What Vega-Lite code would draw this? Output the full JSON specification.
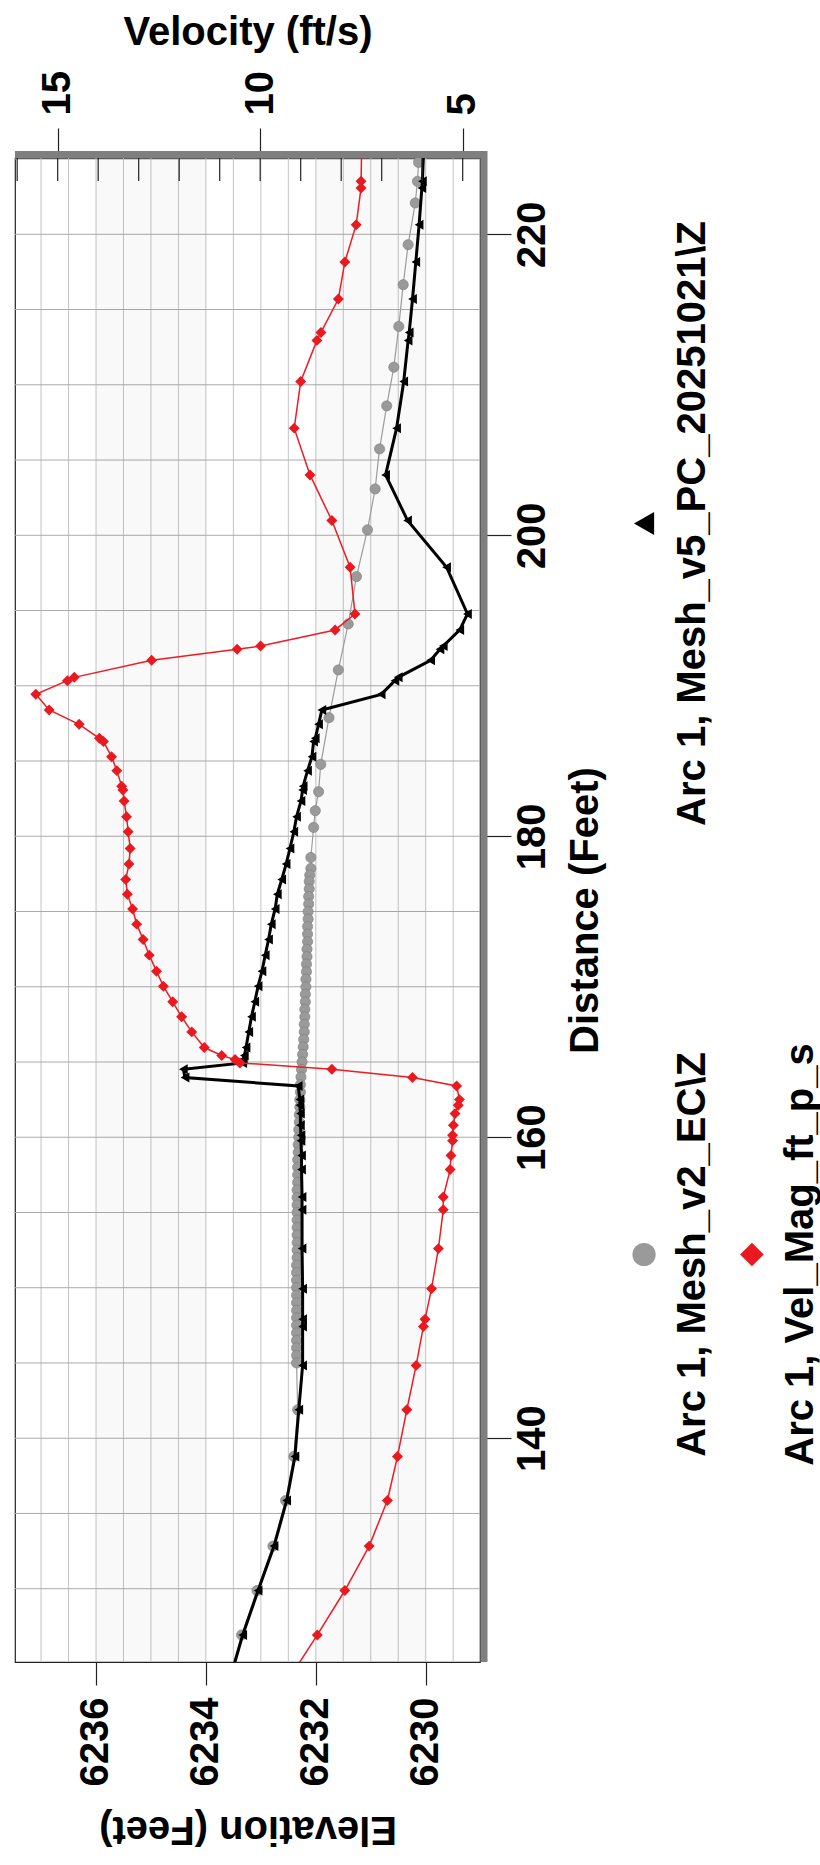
{
  "$schema": "https://vega.github.io/schema/vega-lite/v6.json",
  "padding": {"left": 10, "top": 11, "right": 0, "bottom": 12},
  "spacing": 10,
  "config": {
    "font": "Liberation Sans",
    "view": {"stroke": null},
    "axis": {
      "labelFont": "Liberation Sans", "titleFont": "Liberation Sans",
      "labelFontSize": 40, "titleFontSize": 40,
      "labelFontWeight": "bold", "titleFontWeight": "bold",
      "labelColor": "#000", "titleColor": "#000",
      "tickColor": "#222", "tickWidth": 1.2, "domain": false, "grid": false,
      "labelOverlap": false, "labelFlush": false, "labelBound": false, "zindex": 1
    }
  },
  "datasets": {
    "gray": [
      {"d":226.4,"e":6230.10},{"d":224.78,"e":6230.13},{"d":223.52,"e":6230.15},{"d":222.08,"e":6230.19},
      {"d":219.31,"e":6230.32},{"d":216.65,"e":6230.41},{"d":213.88,"e":6230.49},{"d":211.17,"e":6230.58},
      {"d":208.6,"e":6230.71},{"d":205.74,"e":6230.84},{"d":203.08,"e":6230.92},{"d":200.36,"e":6231.06},
      {"d":197.26,"e":6231.26},{"d":194.11,"e":6231.41},{"d":191.05,"e":6231.59},{"d":187.88,"e":6231.76},
      {"d":184.78,"e":6231.91},{"d":182.96,"e":6231.95},{"d":181.7,"e":6232.01},{"d":180.59,"e":6232.04},
      {"d":178.59,"e":6232.09},{"d":177.86,"e":6232.09},{"d":177.42,"e":6232.11},
      {"d":177.0,"e":6232.12},{"d":176.5,"e":6232.12},{"d":176.0,"e":6232.13},{"d":175.5,"e":6232.13},
      {"d":175.0,"e":6232.14},{"d":174.5,"e":6232.14},{"d":174.0,"e":6232.15},{"d":173.5,"e":6232.15},
      {"d":173.0,"e":6232.15},{"d":172.5,"e":6232.16},{"d":172.0,"e":6232.16},{"d":171.5,"e":6232.17},
      {"d":171.0,"e":6232.17},{"d":170.5,"e":6232.18},{"d":170.0,"e":6232.18},{"d":169.5,"e":6232.19},
      {"d":169.0,"e":6232.19},{"d":168.5,"e":6232.2},{"d":168.0,"e":6232.2},{"d":167.5,"e":6232.21},
      {"d":167.0,"e":6232.21},{"d":166.5,"e":6232.22},{"d":166.0,"e":6232.23},{"d":165.5,"e":6232.24},
      {"d":165.0,"e":6232.25},{"d":164.5,"e":6232.26},{"d":164.0,"e":6232.27},{"d":163.5,"e":6232.28},
      {"d":163.0,"e":6232.28},{"d":162.5,"e":6232.29},{"d":162.0,"e":6232.29},{"d":161.5,"e":6232.3},
      {"d":161.0,"e":6232.3},{"d":160.5,"e":6232.31},{"d":160.0,"e":6232.31},{"d":159.5,"e":6232.32},
      {"d":159.0,"e":6232.32},{"d":158.5,"e":6232.33},{"d":158.0,"e":6232.33},{"d":157.5,"e":6232.33},
      {"d":157.0,"e":6232.33},{"d":156.5,"e":6232.34},{"d":156.0,"e":6232.34},{"d":155.5,"e":6232.34},
      {"d":155.0,"e":6232.34},{"d":154.5,"e":6232.34},{"d":154.0,"e":6232.34},{"d":153.5,"e":6232.34},
      {"d":153.0,"e":6232.34},{"d":152.5,"e":6232.34},{"d":152.0,"e":6232.34},{"d":151.5,"e":6232.35},
      {"d":151.0,"e":6232.35},{"d":150.5,"e":6232.35},{"d":150.0,"e":6232.35},{"d":149.5,"e":6232.35},
      {"d":149.0,"e":6232.35},{"d":148.5,"e":6232.35},{"d":148.0,"e":6232.35},{"d":147.5,"e":6232.35},
      {"d":147.0,"e":6232.35},{"d":146.5,"e":6232.35},{"d":146.0,"e":6232.35},{"d":145.5,"e":6232.35},
      {"d":145.0,"e":6232.35},
      {"d":141.89,"e":6232.33},{"d":138.79,"e":6232.4},{"d":135.86,"e":6232.55},{"d":132.83,"e":6232.78},
      {"d":129.88,"e":6233.07},{"d":126.93,"e":6233.35},{"d":124.01,"e":6233.58}
    ],
    "black": [
      {"d":226.4,"e":6230.03},{"d":223.52,"e":6230.06},{"d":223.08,"e":6230.07},{"d":220.64,"e":6230.12},
      {"d":218.16,"e":6230.18},{"d":215.7,"e":6230.24},{"d":213.48,"e":6230.3},{"d":212.95,"e":6230.32},
      {"d":210.22,"e":6230.4},{"d":207.12,"e":6230.53},{"d":204.01,"e":6230.73},{"d":200.98,"e":6230.33},
      {"d":197.88,"e":6229.62},{"d":194.77,"e":6229.24},{"d":193.71,"e":6229.38},{"d":192.64,"e":6229.68},
      {"d":192.42,"e":6229.74},{"d":191.69,"e":6229.91},{"d":190.56,"e":6230.5},{"d":190.34,"e":6230.56},
      {"d":189.43,"e":6230.81},{"d":188.39,"e":6231.89},{"d":187.44,"e":6231.95},{"d":186.51,"e":6232.01},
      {"d":186.29,"e":6232.04},{"d":185.29,"e":6232.07},{"d":184.36,"e":6232.15},{"d":183.33,"e":6232.23},
      {"d":183.07,"e":6232.24},{"d":182.34,"e":6232.27},{"d":181.3,"e":6232.35},{"d":180.3,"e":6232.4},
      {"d":179.19,"e":6232.47},{"d":178.15,"e":6232.54},{"d":177.13,"e":6232.62},{"d":176.15,"e":6232.7},
      {"d":175.17,"e":6232.74},{"d":174.16,"e":6232.81},{"d":173.14,"e":6232.86},{"d":172.1,"e":6232.92},
      {"d":171.03,"e":6232.98},{"d":170.04,"e":6233.05},{"d":169.0,"e":6233.11},{"d":168.0,"e":6233.17},
      {"d":167.0,"e":6233.22},{"d":165.96,"e":6233.27},{"d":165.43,"e":6233.3},{"d":165.16,"e":6233.32},
      {"d":164.94,"e":6233.33},{"d":164.52,"e":6234.41},{"d":163.97,"e":6234.38},{"d":163.41,"e":6232.32},
      {"d":162.5,"e":6232.29},{"d":162.12,"e":6232.29},{"d":161.57,"e":6232.28},{"d":160.79,"e":6232.28},
      {"d":160.13,"e":6232.27},{"d":159.76,"e":6232.27},{"d":158.78,"e":6232.26},{"d":157.85,"e":6232.26},
      {"d":156.03,"e":6232.25},{"d":155.19,"e":6232.25},{"d":152.6,"e":6232.25},{"d":149.94,"e":6232.24},
      {"d":147.9,"e":6232.24},{"d":147.43,"e":6232.24},{"d":144.84,"e":6232.24},{"d":141.89,"e":6232.31},
      {"d":138.79,"e":6232.38},{"d":135.86,"e":6232.53},{"d":132.83,"e":6232.76},{"d":129.88,"e":6233.05},
      {"d":126.93,"e":6233.33},{"d":124.01,"e":6233.56}
    ],
    "vel": [
      {"d":226.4,"v":7.49},{"d":223.52,"v":7.51},{"d":223.08,"v":7.51},{"d":220.64,"v":7.63},
      {"d":218.16,"v":7.91},{"d":215.7,"v":8.07},{"d":213.48,"v":8.5},{"d":212.95,"v":8.6},
      {"d":210.22,"v":9.0},{"d":207.12,"v":9.16},{"d":204.01,"v":8.77},{"d":200.98,"v":8.23},
      {"d":197.88,"v":7.78},{"d":194.77,"v":7.66},{"d":193.71,"v":8.15},{"d":192.64,"v":9.99},
      {"d":192.42,"v":10.57},{"d":191.69,"v":12.68},{"d":190.56,"v":14.59},{"d":190.34,"v":14.76},
      {"d":189.43,"v":15.54},{"d":188.39,"v":15.21},{"d":187.44,"v":14.47},{"d":186.51,"v":13.97},
      {"d":186.29,"v":13.87},{"d":185.29,"v":13.67},{"d":184.36,"v":13.54},{"d":183.33,"v":13.42},
      {"d":183.07,"v":13.39},{"d":182.34,"v":13.36},{"d":181.3,"v":13.3},{"d":180.3,"v":13.26},
      {"d":179.19,"v":13.21},{"d":178.15,"v":13.24},{"d":177.13,"v":13.32},{"d":176.15,"v":13.28},
      {"d":175.17,"v":13.15},{"d":174.16,"v":13.05},{"d":173.14,"v":12.89},{"d":172.1,"v":12.74},
      {"d":171.03,"v":12.56},{"d":170.04,"v":12.39},{"d":169.0,"v":12.16},{"d":168.0,"v":11.94},
      {"d":167.0,"v":11.69},{"d":165.96,"v":11.38},{"d":165.43,"v":10.95},{"d":165.16,"v":10.62},
      {"d":164.94,"v":10.5},{"d":164.52,"v":8.23},{"d":163.97,"v":6.24},{"d":163.41,"v":5.15},
      {"d":162.5,"v":5.08},{"d":162.12,"v":5.11},{"d":161.57,"v":5.19},{"d":160.79,"v":5.23},
      {"d":160.13,"v":5.25},{"d":159.76,"v":5.25},{"d":158.78,"v":5.29},{"d":157.85,"v":5.31},
      {"d":156.03,"v":5.48},{"d":155.19,"v":5.48},{"d":152.6,"v":5.6},{"d":149.94,"v":5.77},
      {"d":147.9,"v":5.93},{"d":147.43,"v":5.97},{"d":144.84,"v":6.15},{"d":141.89,"v":6.38},
      {"d":138.79,"v":6.61},{"d":135.86,"v":6.86},{"d":132.83,"v":7.31},{"d":129.88,"v":7.91},
      {"d":126.93,"v":8.59},{"d":124.01,"v":9.29}
    ],
    "legend": [
      {"series":"v2","col":"c1","row":"r2","label":"Arc 1, Mesh_v2_EC\\Z"},
      {"series":"v5","col":"c1","row":"r1","label":"Arc 1, Mesh_v5_PC_20251021\\Z"},
      {"series":"vel","col":"c2","row":"r2","label":"Arc 1, Vel_Mag_ft_p_s"}
    ]
  },
  "hconcat": [
    {
      "width": 465,
      "height": 1504,
      "view": {"stroke": "#222", "strokeWidth": 1.2, "fill": "white"},
      "layer": [
        {
          "layer": [
            {
              "data": {"values": [{"e":6229.5},{"e":6230},{"e":6230.5},{"e":6231},{"e":6231.5},{"e":6232},{"e":6232.5},{"e":6233},{"e":6233.5},{"e":6234},{"e":6234.5},{"e":6235},{"e":6235.5},{"e":6236},{"e":6236.5},{"e":6237}]},
              "mark": {"type": "rule", "color": "#c4c4c4", "strokeWidth": 1},
              "encoding": {
                "x": {"field": "e", "type": "quantitative",
                  "scale": {"domain": [6229.012, 6237.474], "reverse": true, "nice": false, "zero": false},
                  "axis": {"orient": "bottom", "values": [6230, 6232, 6234, 6236], "format": "d", "labelAngle": 270, "labelAlign": "right", "labelBaseline": "middle", "labelPadding": 12, "tickSize": 23, "title": "Elevation (Feet)", "titleAngle": 180, "titleBaseline": "bottom", "titlePadding": 23}}
              }
            },
            {
              "data": {"values": [{"d":130},{"d":135},{"d":140},{"d":145},{"d":150},{"d":155},{"d":160},{"d":165},{"d":170},{"d":175},{"d":180},{"d":185},{"d":190},{"d":195},{"d":200},{"d":205},{"d":210},{"d":215},{"d":220},{"d":225}]},
              "mark": {"type": "rule", "color": "#ababab", "strokeWidth": 1},
              "encoding": {
                "y": {"field": "d", "type": "quantitative",
                  "scale": {"domain": [125.13, 225.07], "nice": false, "zero": false},
                  "axis": {"orient": "right", "values": [140, 160, 180, 200, 220], "format": "d", "labelAngle": 270, "labelAlign": "center", "labelBaseline": "top", "labelPadding": 1, "tickSize": 31, "title": "Distance (Feet)", "titleAngle": 270, "titleBaseline": "top", "titlePadding": 13}}
              }
            },
            {
              "data": {"values": [{"a": 6236, "b": 6234}, {"a": 6232, "b": 6230}]},
              "mark": {"type": "rect", "fill": "#000", "opacity": 0.025},
              "encoding": {
                "x": {"field": "a", "type": "quantitative",
                  "scale": {"domain": [6229.012, 6237.474], "reverse": true, "nice": false, "zero": false},
                  "axis": {"orient": "bottom", "values": [6230, 6232, 6234, 6236], "format": "d", "labelAngle": 270, "labelAlign": "right", "labelBaseline": "middle", "labelPadding": 12, "tickSize": 23, "title": "Elevation (Feet)", "titleAngle": 180, "titleBaseline": "bottom", "titlePadding": 23}},
                "x2": {"field": "b"}
              }
            },
            {
              "data": {"values": [{}]},
              "mark": {"type": "rule", "color": "#7f7f7f", "strokeWidth": 7, "xOffset": 7, "x2Offset": 8, "yOffset": -3.5},
              "encoding": {
                "y": {"datum": 225.07, "type": "quantitative",
                  "scale": {"domain": [125.13, 225.07], "nice": false, "zero": false},
                  "axis": {"orient": "right", "values": [140, 160, 180, 200, 220], "format": "d", "labelAngle": 270, "labelAlign": "center", "labelBaseline": "top", "labelPadding": 1, "tickSize": 31, "title": "Distance (Feet)", "titleAngle": 270, "titleBaseline": "top", "titlePadding": 13}}
              }
            },
            {
              "data": {"values": [{}]},
              "mark": {"type": "rule", "color": "#7f7f7f", "strokeWidth": 7, "xOffset": 4, "yOffset": -7, "y2Offset": -7},
              "encoding": {
                "x": {"datum": 6229.012, "type": "quantitative",
                  "scale": {"domain": [6229.012, 6237.474], "reverse": true, "nice": false, "zero": false},
                  "axis": {"orient": "bottom", "values": [6230, 6232, 6234, 6236], "format": "d", "labelAngle": 270, "labelAlign": "right", "labelBaseline": "middle", "labelPadding": 12, "tickSize": 23, "title": "Elevation (Feet)", "titleAngle": 180, "titleBaseline": "bottom", "titlePadding": 23}}
              }
            },
            {
              "data": {"name": "gray"},
              "mark": {"type": "line", "color": "#9c9c9c", "strokeWidth": 1.2, "clip": true},
              "encoding": {
                "x": {"field": "e", "type": "quantitative",
                  "scale": {"domain": [6229.012, 6237.474], "reverse": true, "nice": false, "zero": false},
                  "axis": {"orient": "bottom", "values": [6230, 6232, 6234, 6236], "format": "d", "labelAngle": 270, "labelAlign": "right", "labelBaseline": "middle", "labelPadding": 12, "tickSize": 23, "title": "Elevation (Feet)", "titleAngle": 180, "titleBaseline": "bottom", "titlePadding": 23}},
                "y": {"field": "d", "type": "quantitative",
                  "scale": {"domain": [125.13, 225.07], "nice": false, "zero": false},
                  "axis": {"orient": "right", "values": [140, 160, 180, 200, 220], "format": "d", "labelAngle": 270, "labelAlign": "center", "labelBaseline": "top", "labelPadding": 1, "tickSize": 31, "title": "Distance (Feet)", "titleAngle": 270, "titleBaseline": "top", "titlePadding": 13}},
                "order": {"field": "d", "type": "quantitative"}
              }
            },
            {
              "data": {"name": "gray"},
              "mark": {"type": "point", "shape": "circle", "filled": true, "fill": "#9a9a9a", "stroke": "#7c7c7c", "strokeWidth": 0.6, "opacity": 1, "size": 105, "clip": true},
              "encoding": {
                "x": {"field": "e", "type": "quantitative",
                  "scale": {"domain": [6229.012, 6237.474], "reverse": true, "nice": false, "zero": false},
                  "axis": {"orient": "bottom", "values": [6230, 6232, 6234, 6236], "format": "d", "labelAngle": 270, "labelAlign": "right", "labelBaseline": "middle", "labelPadding": 12, "tickSize": 23, "title": "Elevation (Feet)", "titleAngle": 180, "titleBaseline": "bottom", "titlePadding": 23}},
                "y": {"field": "d", "type": "quantitative",
                  "scale": {"domain": [125.13, 225.07], "nice": false, "zero": false},
                  "axis": {"orient": "right", "values": [140, 160, 180, 200, 220], "format": "d", "labelAngle": 270, "labelAlign": "center", "labelBaseline": "top", "labelPadding": 1, "tickSize": 31, "title": "Distance (Feet)", "titleAngle": 270, "titleBaseline": "top", "titlePadding": 13}}
              }
            },
            {
              "data": {"name": "black"},
              "mark": {"type": "line", "color": "#000", "strokeWidth": 3, "clip": true},
              "encoding": {
                "x": {"field": "e", "type": "quantitative",
                  "scale": {"domain": [6229.012, 6237.474], "reverse": true, "nice": false, "zero": false},
                  "axis": {"orient": "bottom", "values": [6230, 6232, 6234, 6236], "format": "d", "labelAngle": 270, "labelAlign": "right", "labelBaseline": "middle", "labelPadding": 12, "tickSize": 23, "title": "Elevation (Feet)", "titleAngle": 180, "titleBaseline": "bottom", "titlePadding": 23}},
                "y": {"field": "d", "type": "quantitative",
                  "scale": {"domain": [125.13, 225.07], "nice": false, "zero": false},
                  "axis": {"orient": "right", "values": [140, 160, 180, 200, 220], "format": "d", "labelAngle": 270, "labelAlign": "center", "labelBaseline": "top", "labelPadding": 1, "tickSize": 31, "title": "Distance (Feet)", "titleAngle": 270, "titleBaseline": "top", "titlePadding": 13}},
                "order": {"field": "d", "type": "quantitative"}
              }
            },
            {
              "data": {"name": "black"},
              "mark": {"type": "point", "shape": "triangle-left", "filled": true, "fill": "#000", "opacity": 1, "size": 100, "clip": true},
              "encoding": {
                "x": {"field": "e", "type": "quantitative",
                  "scale": {"domain": [6229.012, 6237.474], "reverse": true, "nice": false, "zero": false},
                  "axis": {"orient": "bottom", "values": [6230, 6232, 6234, 6236], "format": "d", "labelAngle": 270, "labelAlign": "right", "labelBaseline": "middle", "labelPadding": 12, "tickSize": 23, "title": "Elevation (Feet)", "titleAngle": 180, "titleBaseline": "bottom", "titlePadding": 23}},
                "y": {"field": "d", "type": "quantitative",
                  "scale": {"domain": [125.13, 225.07], "nice": false, "zero": false},
                  "axis": {"orient": "right", "values": [140, 160, 180, 200, 220], "format": "d", "labelAngle": 270, "labelAlign": "center", "labelBaseline": "top", "labelPadding": 1, "tickSize": 31, "title": "Distance (Feet)", "titleAngle": 270, "titleBaseline": "top", "titlePadding": 13}}
              }
            }
          ]
        },
        {
          "layer": [
            {
              "data": {"name": "vel"},
              "mark": {"type": "line", "color": "#ec1c24", "strokeWidth": 1.5, "clip": true},
              "encoding": {
                "x": {"field": "v", "type": "quantitative",
                  "scale": {"domain": [4.573, 16.054], "reverse": true, "nice": false, "zero": false},
                  "axis": {"orient": "top", "values": [5, 10, 15], "labelAngle": 270, "labelAlign": "left", "labelBaseline": "middle", "labelPadding": 13, "tickSize": 30, "title": "Velocity (ft/s)", "titleAngle": 0, "titleBaseline": "bottom", "titlePadding": 18}},
                "y": {"field": "d", "type": "quantitative",
                  "scale": {"domain": [125.13, 225.07], "nice": false, "zero": false},
                  "axis": {"orient": "right", "values": [140, 160, 180, 200, 220], "format": "d", "labelAngle": 270, "labelAlign": "center", "labelBaseline": "top", "labelPadding": 1, "tickSize": 31, "title": "Distance (Feet)", "titleAngle": 270, "titleBaseline": "top", "titlePadding": 13}},
                "order": {"field": "d", "type": "quantitative"}
              }
            },
            {
              "data": {"values": [{"v":5},{"v":6},{"v":7},{"v":8},{"v":9},{"v":10},{"v":11},{"v":12},{"v":13},{"v":14},{"v":15},{"v":16}]},
              "mark": {"type": "rule", "color": "#222", "strokeWidth": 1.2},
              "encoding": {
                "x": {"field": "v", "type": "quantitative",
                  "scale": {"domain": [4.573, 16.054], "reverse": true, "nice": false, "zero": false},
                  "axis": {"orient": "top", "values": [5, 10, 15], "labelAngle": 270, "labelAlign": "left", "labelBaseline": "middle", "labelPadding": 13, "tickSize": 30, "title": "Velocity (ft/s)", "titleAngle": 0, "titleBaseline": "bottom", "titlePadding": 18}},
                "y": {"datum": 225.07, "type": "quantitative",
                  "scale": {"domain": [125.13, 225.07], "nice": false, "zero": false},
                  "axis": {"orient": "right", "values": [140, 160, 180, 200, 220], "format": "d", "labelAngle": 270, "labelAlign": "center", "labelBaseline": "top", "labelPadding": 1, "tickSize": 31, "title": "Distance (Feet)", "titleAngle": 270, "titleBaseline": "top", "titlePadding": 13}},
                "y2": {"datum": 223.54}
              }
            },
            {
              "data": {"name": "vel"},
              "mark": {"type": "point", "shape": "diamond", "filled": true, "fill": "#e8191f", "opacity": 1, "size": 120, "clip": true},
              "encoding": {
                "x": {"field": "v", "type": "quantitative",
                  "scale": {"domain": [4.573, 16.054], "reverse": true, "nice": false, "zero": false},
                  "axis": {"orient": "top", "values": [5, 10, 15], "labelAngle": 270, "labelAlign": "left", "labelBaseline": "middle", "labelPadding": 13, "tickSize": 30, "title": "Velocity (ft/s)", "titleAngle": 0, "titleBaseline": "bottom", "titlePadding": 18}},
                "y": {"field": "d", "type": "quantitative",
                  "scale": {"domain": [125.13, 225.07], "nice": false, "zero": false},
                  "axis": {"orient": "right", "values": [140, 160, 180, 200, 220], "format": "d", "labelAngle": 270, "labelAlign": "center", "labelBaseline": "top", "labelPadding": 1, "tickSize": 31, "title": "Distance (Feet)", "titleAngle": 270, "titleBaseline": "top", "titlePadding": 13}}
              }
            }
          ]
        }
      ],
      "resolve": {"scale": {"x": "independent"}, "axis": {"x": "independent"}}
    },
    {
      "width": 164,
      "height": 1462,
      "view": {"stroke": null},
      "data": {"name": "legend"},
      "encoding": {
        "x": {"field": "col", "type": "nominal", "scale": {"type": "point", "domain": ["c1", "c2"], "padding": 0.26}, "axis": null},
        "y": {"field": "row", "type": "nominal", "scale": {"type": "point", "domain": ["r1", "r2"], "padding": 0.5}, "axis": null}
      },
      "layer": [
        {
          "transform": [{"filter": "datum.series === 'v2'"}],
          "mark": {"type": "point", "shape": "circle", "filled": true, "fill": "#9a9a9a", "opacity": 1, "size": 540}
        },
        {
          "transform": [{"filter": "datum.series === 'v5'"}],
          "mark": {"type": "point", "shape": "triangle-left", "filled": true, "fill": "#000", "opacity": 1, "size": 540}
        },
        {
          "transform": [{"filter": "datum.series === 'vel'"}],
          "mark": {"type": "point", "shape": "diamond", "filled": true, "fill": "#e8191f", "opacity": 1, "size": 560}
        },
        {
          "mark": {"type": "text", "angle": 270, "align": "center", "baseline": "top", "xOffset": 29, "fontSize": 40, "fontWeight": "bold", "font": "Liberation Sans", "color": "#000"},
          "encoding": {"text": {"field": "label", "type": "nominal"}}
        }
      ]
    }
  ]
}
